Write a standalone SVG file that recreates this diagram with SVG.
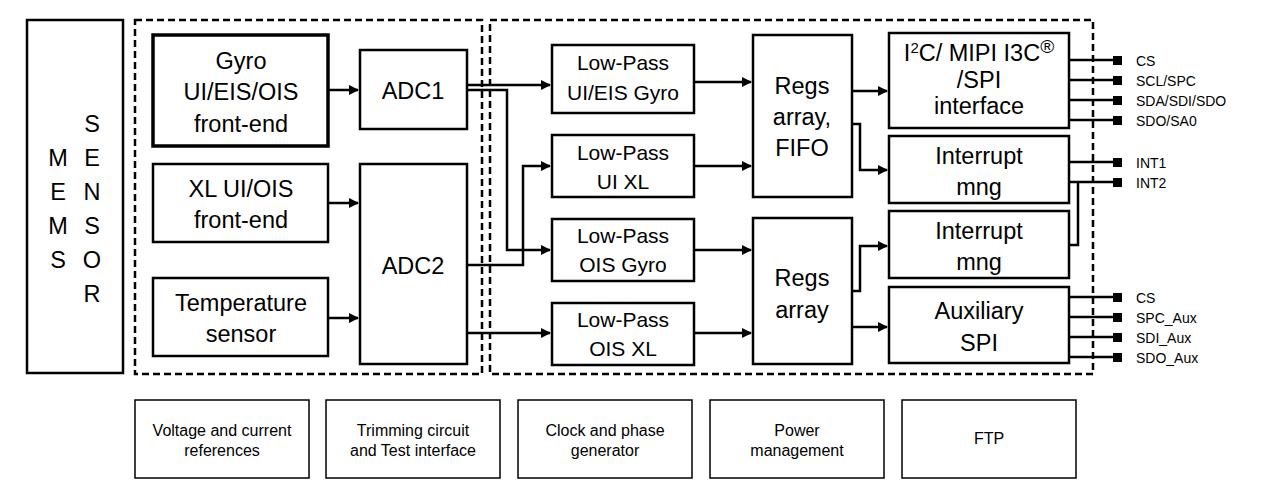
<svg xmlns="http://www.w3.org/2000/svg" width="1264" height="495" viewBox="0 0 1264 495">
<style>
.b{fill:#fff;stroke:#000;stroke-width:2.5}
.d{fill:none;stroke:#000;stroke-width:2.5;stroke-dasharray:7,4}
.t{font-family:"Liberation Sans",Arial,sans-serif;font-size:23.5px;text-anchor:middle;fill:#000}
.s{font-family:"Liberation Sans",Arial,sans-serif;font-size:16px;text-anchor:middle;fill:#000}
.p{font-family:"Liberation Sans",Arial,sans-serif;font-size:14px;fill:#000}
.c path{fill:none;stroke:#000;stroke-width:2.5}
.thin{fill:none;stroke:#000;stroke-width:1.5}
</style>
<defs><marker id="a" markerWidth="10" markerHeight="10" refX="9" refY="5" orient="auto" markerUnits="userSpaceOnUse"><path d="M0,0 L10,5 L0,10 z" fill="#000"/></marker></defs>
<rect class="d" x="135" y="20" width="347" height="354"/>
<rect class="d" x="490" y="20" width="603" height="354"/>
<g id="mems"><rect class="b" x="27" y="20" width="96" height="353"/>
<text class="t"><tspan x="58" y="166">M</tspan><tspan x="58" y="200">E</tspan><tspan x="58" y="234">M</tspan><tspan x="58" y="268">S</tspan></text>
<text class="t"><tspan x="92" y="132">S</tspan><tspan x="92" y="166">E</tspan><tspan x="92" y="200">N</tspan><tspan x="92" y="234">S</tspan><tspan x="92" y="268">O</tspan><tspan x="92" y="302">R</tspan></text></g>
<g id="gyro"><rect class="b" x="153" y="35" width="175" height="111" style="stroke-width:3.5"/><text class="t"><tspan x="241" y="69">Gyro</tspan><tspan x="241" y="100">UI/EIS/OIS</tspan><tspan x="241" y="132">front-end</tspan></text></g>
<g id="xl"><rect class="b" x="153" y="164" width="175" height="78"/><text class="t"><tspan x="241" y="197">XL UI/OIS</tspan><tspan x="241" y="228">front-end</tspan></text></g>
<g id="temp"><rect class="b" x="153" y="278" width="175" height="78"/><text class="t"><tspan x="241" y="311">Temperature</tspan><tspan x="241" y="342">sensor</tspan></text></g>
<g id="adc1"><rect class="b" x="360" y="50" width="107" height="79"/><text class="t" x="413" y="99">ADC1</text></g>
<g id="adc2"><rect class="b" x="360" y="164" width="107" height="200"/><text class="t" x="413" y="274">ADC2</text></g>
<g id="lp1"><rect class="b" x="552" y="45" width="142" height="68"/><text class="t" style="font-size:21px"><tspan x="623" y="70">Low-Pass</tspan><tspan x="623" y="100">UI/EIS Gyro</tspan></text></g>
<g id="lp2"><rect class="b" x="552" y="135" width="142" height="62"/><text class="t" style="font-size:21px"><tspan x="623" y="160">Low-Pass</tspan><tspan x="623" y="189">UI XL</tspan></text></g>
<g id="lp3"><rect class="b" x="552" y="219" width="142" height="62"/><text class="t" style="font-size:21px"><tspan x="623" y="243">Low-Pass</tspan><tspan x="623" y="272">OIS Gyro</tspan></text></g>
<g id="lp4"><rect class="b" x="552" y="303" width="142" height="62"/><text class="t" style="font-size:21px"><tspan x="623" y="327">Low-Pass</tspan><tspan x="623" y="356">OIS XL</tspan></text></g>
<g id="regs1"><rect class="b" x="753" y="35" width="99" height="162"/><text class="t"><tspan x="802" y="94">Regs</tspan><tspan x="802" y="125">array,</tspan><tspan x="802" y="156">FIFO</tspan></text></g>
<g id="regs2"><rect class="b" x="753" y="218" width="99" height="146"/><text class="t"><tspan x="802" y="286">Regs</tspan><tspan x="802" y="318">array</tspan></text></g>
<g id="i2c"><rect class="b" x="889" y="33" width="180" height="95"/><text class="t"><tspan x="979" y="61">I<tspan dy="-8" style="font-size:15px">2</tspan><tspan dy="8">C/ MIPI I3C</tspan><tspan dy="-8" style="font-size:19px">®</tspan></tspan><tspan x="979" y="88">/SPI</tspan><tspan x="979" y="114">interface</tspan></text></g>
<g id="int1"><rect class="b" x="889" y="136" width="180" height="67"/><text class="t"><tspan x="979" y="164">Interrupt</tspan><tspan x="979" y="195">mng</tspan></text></g>
<g id="int2"><rect class="b" x="889" y="211" width="180" height="67"/><text class="t"><tspan x="979" y="239">Interrupt</tspan><tspan x="979" y="270">mng</tspan></text></g>
<g id="aux"><rect class="b" x="889" y="287" width="180" height="76"/><text class="t"><tspan x="979" y="319">Auxiliary</tspan><tspan x="979" y="351">SPI</tspan></text></g>
<g class="c">
<path d="M328,90 H358" marker-end="url(#a)"/>
<path d="M328,203 H358" marker-end="url(#a)"/>
<path d="M328,318 H358" marker-end="url(#a)"/>
<path d="M467,85 H550" marker-end="url(#a)"/>
<path d="M467,90 H507 V250 H550" marker-end="url(#a)"/>
<path d="M467,265 H523 V166 H550" marker-end="url(#a)"/>
<path d="M467,333 H550" marker-end="url(#a)"/>
<path d="M694,82 H751" marker-end="url(#a)"/>
<path d="M694,166 H751" marker-end="url(#a)"/>
<path d="M694,250 H751" marker-end="url(#a)"/>
<path d="M694,333 H751" marker-end="url(#a)"/>
<path d="M852,91 H887" marker-end="url(#a)"/>
<path d="M852,124 H860 V170 H887" marker-end="url(#a)"/>
<path d="M852,291 H860 V246 H887" marker-end="url(#a)"/>
<path d="M852,327 H887" marker-end="url(#a)"/>
<path d="M1069,245 H1078 V182"/>
<path d="M1069,60 H1116 M1069,80 H1116 M1069,100 H1116 M1069,120 H1116 M1069,162 H1116 M1069,182 H1116 M1069,297 H1116 M1069,317 H1116 M1069,337 H1116 M1069,357 H1116"/>
</g>
<g id="pins">
<rect x="1113" y="56" width="9" height="9"/><rect x="1113" y="76" width="9" height="9"/><rect x="1113" y="96" width="9" height="9"/><rect x="1113" y="116" width="9" height="9"/>
<rect x="1113" y="158" width="9" height="9"/><rect x="1113" y="178" width="9" height="9"/>
<rect x="1113" y="293" width="9" height="9"/><rect x="1113" y="313" width="9" height="9"/><rect x="1113" y="333" width="9" height="9"/><rect x="1113" y="353" width="9" height="9"/>
<text class="p" x="1136" y="66">CS</text><text class="p" x="1136" y="86">SCL/SPC</text><text class="p" x="1136" y="106">SDA/SDI/SDO</text><text class="p" x="1136" y="126">SDO/SA0</text>
<text class="p" x="1136" y="168">INT1</text><text class="p" x="1136" y="188">INT2</text>
<text class="p" x="1136" y="303">CS</text><text class="p" x="1136" y="323">SPC_Aux</text><text class="p" x="1136" y="343">SDI_Aux</text><text class="p" x="1136" y="363">SDO_Aux</text>
</g>
<g id="vref"><rect class="thin" x="135" y="400" width="174" height="78" fill="#fff"/><text class="s"><tspan x="222" y="436">Voltage and current</tspan><tspan x="222" y="456">references</tspan></text></g>
<g id="trim"><rect class="thin" x="326" y="400" width="174" height="78" fill="#fff"/><text class="s"><tspan x="413" y="436">Trimming circuit</tspan><tspan x="413" y="456">and Test interface</tspan></text></g>
<g id="clock"><rect class="thin" x="518" y="400" width="174" height="78" fill="#fff"/><text class="s"><tspan x="605" y="436">Clock and phase</tspan><tspan x="605" y="456">generator</tspan></text></g>
<g id="power"><rect class="thin" x="710" y="400" width="174" height="78" fill="#fff"/><text class="s"><tspan x="797" y="436">Power</tspan><tspan x="797" y="456">management</tspan></text></g>
<g id="ftp"><rect class="thin" x="902" y="400" width="174" height="78" fill="#fff"/><text class="s" x="989" y="444">FTP</text></g>
</svg>
